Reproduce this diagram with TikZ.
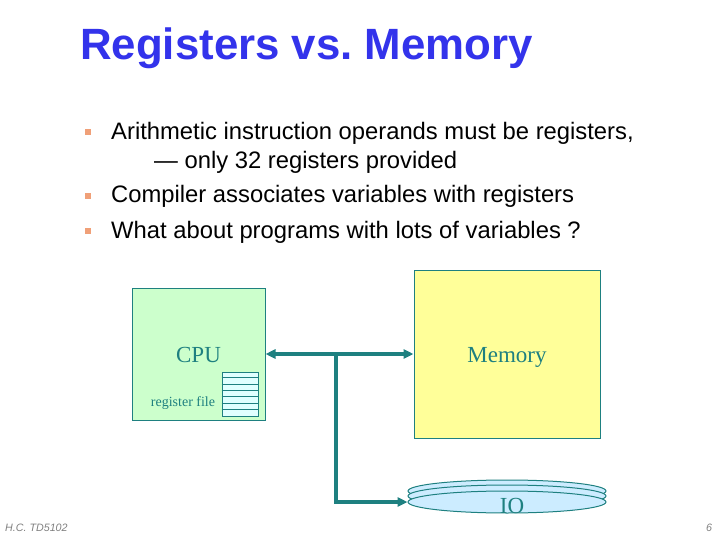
\documentclass[tikz,border=0pt]{standalone}
\usepackage{fontspec}
\setmainfont{Liberation Sans}
\newfontfamily\diagfont{Liberation Serif}
\usetikzlibrary{arrows.meta,positioning,shapes.geometric}
\definecolor{titleblue}{RGB}{51,51,235}
\definecolor{tealline}{RGB}{30,128,128}
\definecolor{cpufill}{RGB}{204,255,204}
\definecolor{memfill}{RGB}{255,255,153}
\definecolor{iofill}{RGB}{204,236,255}
\definecolor{regfill}{RGB}{224,255,255}
\definecolor{bulletc}{RGB}{240,160,120}

\begin{document}
\begin{tikzpicture}[
  x=1pt, y=-1pt,
  every node/.style={inner sep=0pt},
  item/.style={anchor=base west, font=\fontsize{23.8}{27}\selectfont},
  bul/.style={fill=bulletc, minimum size=6pt},
  unit/.style={draw=tealline, line width=1pt, font=\diagfont\fontsize{23}{26}\selectfont,
               text=tealline},
  disk/.style={ellipse, draw=tealline, line width=1pt, fill=iofill,
               minimum width=198pt, minimum height=22pt},
  arr/.style={-{Triangle[length=10pt,width=9pt]}, line width=3.2pt, draw=tealline},
  biarr/.style={{Triangle[length=10pt,width=9pt]}-{Triangle[length=10pt,width=9pt]},
                line width=3.2pt, draw=tealline}
]
  \useasboundingbox (0,0) rectangle (720,540);

  % title and bullets
  \node[anchor=west, font=\fontsize{43.8}{48}\selectfont\bfseries, text=titleblue] (title)
       at (80,48) {Registers vs.\ Memory};
  \node[bul] (b1) at (88,132) {};
  \node[bul] (b2) at (88,196) {};
  \node[bul] (b3) at (88,231) {};
  \node[item] (t1) at (111,140) {Arithmetic instruction operands must be registers,};
  \node[item] (t1b) at (154,169) {--- only 32 registers provided};
  \node[item] (t2) at (111,203) {Compiler associates variables with registers};
  \node[item] (t3) at (111,239) {What about programs with lots of variables ?};

  % units
  \node[unit, fill=cpufill, minimum width=133pt, minimum height=132pt] (cpu) at (198.5,354) {\smash{\raisebox{-8.5pt}{CPU}}};
  \node[unit, fill=memfill, minimum width=186pt, minimum height=168pt] (mem) at (507,354) {\smash{\raisebox{-8.5pt}{Memory}}};
  \node[draw=tealline, line width=1pt, fill=regfill, minimum width=36pt, minimum height=44pt]
       (regs) at (240,394) {};
  \foreach \k in {1,...,6}
    \draw[tealline, line width=1pt] ([yshift=-\k*6.3pt]regs.north west) -- ([yshift=-\k*6.3pt]regs.north east);
  \node[font=\diagfont\fontsize{14}{16}\selectfont, text=tealline] (rf) at (183,403) {register file};

  % io stack
  \node[disk] (io3) at (507,491) {};
  \node[disk] (io2) at (507,496) {};
  \node[disk, font=\diagfont\fontsize{23}{26}\selectfont, text=tealline] (io) at (507,502) {\hspace{10pt}\smash{\raisebox{-11pt}{IO}}};

  % connectors
  \draw[biarr] (cpu) -- (mem);
  \coordinate (tap) at (336,354);
  \draw[arr] (tap) |- (io.west);

  % footer
  \node[anchor=west, font=\fontsize{10.7}{12}\selectfont\itshape, text=gray] (foot) at (5,528) {H.C. TD5102};
  \node[font=\fontsize{10.7}{12}\selectfont\itshape, text=gray] (page) at (709,528) {6};
\end{tikzpicture}
\end{document}
